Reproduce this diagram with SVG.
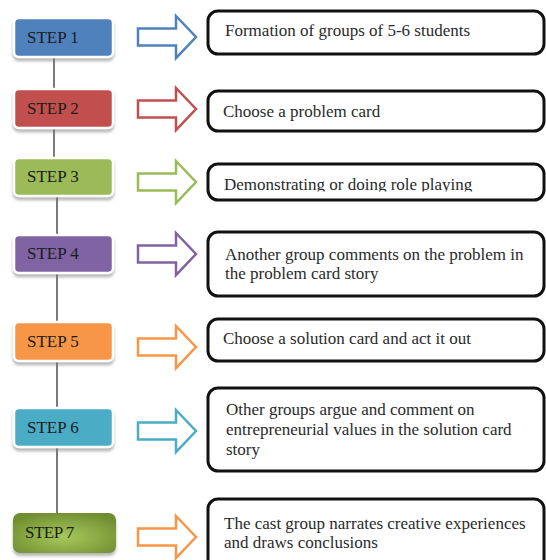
<svg xmlns="http://www.w3.org/2000/svg" width="546" height="560" viewBox="0 0 546 560">
<defs>
  <filter id="sh" x="-20%" y="-30%" width="140%" height="170%">
    <feDropShadow dx="0" dy="3" stdDeviation="1.5" flood-color="#7a7a7a" flood-opacity="0.55"/>
  </filter>
  <radialGradient id="g7" cx="50%" cy="60%" r="65%">
    <stop offset="0" stop-color="#a6c95c"/>
    <stop offset="1" stop-color="#6f8d30"/>
  </radialGradient>
  <clipPath id="clip3"><rect x="200" y="150" width="346" height="41.5"/></clipPath>
  <path id="arr" d="M0,-8.5 H38 V-21 L58,0 L38,21 V8.5 H0 Z"/>
</defs>
<style>
  .step { stroke: #ffffff; stroke-width: 2.5; filter: url(#sh); }
  .stxt { font-family: "Liberation Serif", "Times New Roman", serif; font-size: 17px; fill: #1c1c1c; }
  .box { fill: #ffffff; stroke: #111111; stroke-width: 3; }
  .btxt { font-family: "Liberation Serif", "Times New Roman", serif; font-size: 17px; fill: #2a2a2a; }
  .arrow { fill: #ffffff; stroke-width: 2.5; stroke-linejoin: miter; }
  .conn { stroke: #7a7a7a; stroke-width: 2; fill: none; }
</style>
<rect width="546" height="560" fill="#ffffff"/>

<g id="connectors">
  <line class="conn" x1="54" y1="57" x2="54" y2="89"/>
  <line class="conn" x1="54" y1="128" x2="54" y2="158"/>
  <line class="conn" x1="57" y1="196" x2="57" y2="235"/>
  <line class="conn" x1="57" y1="273" x2="57" y2="322"/>
  <line class="conn" x1="57" y1="361" x2="57" y2="408"/>
  <line class="conn" x1="57" y1="447" x2="57" y2="513"/>
  <use href="#arr" class="arrow" stroke="#4f81bd" transform="translate(138,37)"/>
  <use href="#arr" class="arrow" stroke="#c0504d" transform="translate(138,109)"/>
  <use href="#arr" class="arrow" stroke="#9bbb59" transform="translate(138,182)"/>
  <use href="#arr" class="arrow" stroke="#8064a2" transform="translate(138,254)"/>
  <use href="#arr" class="arrow" stroke="#f79646" transform="translate(138,347)"/>
  <use href="#arr" class="arrow" stroke="#4bacc6" transform="translate(138,431)"/>
  <use href="#arr" class="arrow" stroke="#f79646" transform="translate(138,537)"/>
</g>

<g id="step1">
  <rect class="step" x="14" y="18" width="99" height="39" rx="5" fill="#4f81bd"/>
  <text class="stxt" x="27" y="43">STEP 1</text>
</g>
<g id="step2">
  <rect class="step" x="14" y="89" width="99" height="39" rx="5" fill="#c0504d"/>
  <text class="stxt" x="27" y="114">STEP 2</text>
</g>
<g id="step3">
  <rect class="step" x="14" y="158" width="99" height="38" rx="5" fill="#9bbb59"/>
  <text class="stxt" x="27" y="182">STEP 3</text>
</g>
<g id="step4">
  <rect class="step" x="14" y="235" width="99" height="38" rx="5" fill="#8064a2"/>
  <text class="stxt" x="27" y="259">STEP 4</text>
</g>
<g id="step5">
  <rect class="step" x="14" y="322" width="99" height="39" rx="5" fill="#f79646"/>
  <text class="stxt" x="27" y="347">STEP 5</text>
</g>
<g id="step6">
  <rect class="step" x="14" y="408" width="99" height="39" rx="5" fill="#4bacc6"/>
  <text class="stxt" x="27" y="433">STEP 6</text>
</g>
<g id="step7">
  <rect x="13" y="513" width="103" height="40" rx="7" fill="url(#g7)" filter="url(#sh)"/>
  <text class="stxt" x="25" y="538" letter-spacing="-0.5">STEP 7</text>
</g>

<g id="box1">
  <rect class="box" x="208" y="11" width="336" height="43" rx="10"/>
  <text class="btxt" x="225" y="36">Formation of groups of 5-6 students</text>
</g>
<g id="box2">
  <rect class="box" x="208" y="91" width="336" height="40" rx="10"/>
  <text class="btxt" x="223" y="117">Choose a problem card</text>
</g>
<g id="box3">
  <rect class="box" x="208" y="164" width="336" height="36" rx="10"/>
  <text class="btxt" x="224" y="190" clip-path="url(#clip3)">Demonstrating or doing role playing</text>
</g>
<g id="box4">
  <rect class="box" x="208" y="232" width="336" height="64" rx="10"/>
  <text class="btxt" x="225" y="260">Another group comments on the problem in</text>
  <text class="btxt" x="225" y="279">the problem card story</text>
</g>
<g id="box5">
  <rect class="box" x="208" y="319" width="336" height="42" rx="10"/>
  <text class="btxt" x="223" y="344">Choose a solution card and act it out</text>
</g>
<g id="box6">
  <rect class="box" x="208" y="388" width="336" height="83" rx="10"/>
  <text class="btxt" x="226" y="415">Other groups argue and comment on</text>
  <text class="btxt" x="226" y="435">entrepreneurial values in the solution card</text>
  <text class="btxt" x="226" y="455">story</text>
</g>
<g id="box7">
  <rect class="box" x="208" y="499" width="336" height="75" rx="10"/>
  <text class="btxt" x="224" y="529">The cast group narrates creative experiences</text>
  <text class="btxt" x="224" y="548">and draws conclusions</text>
</g>
</svg>
